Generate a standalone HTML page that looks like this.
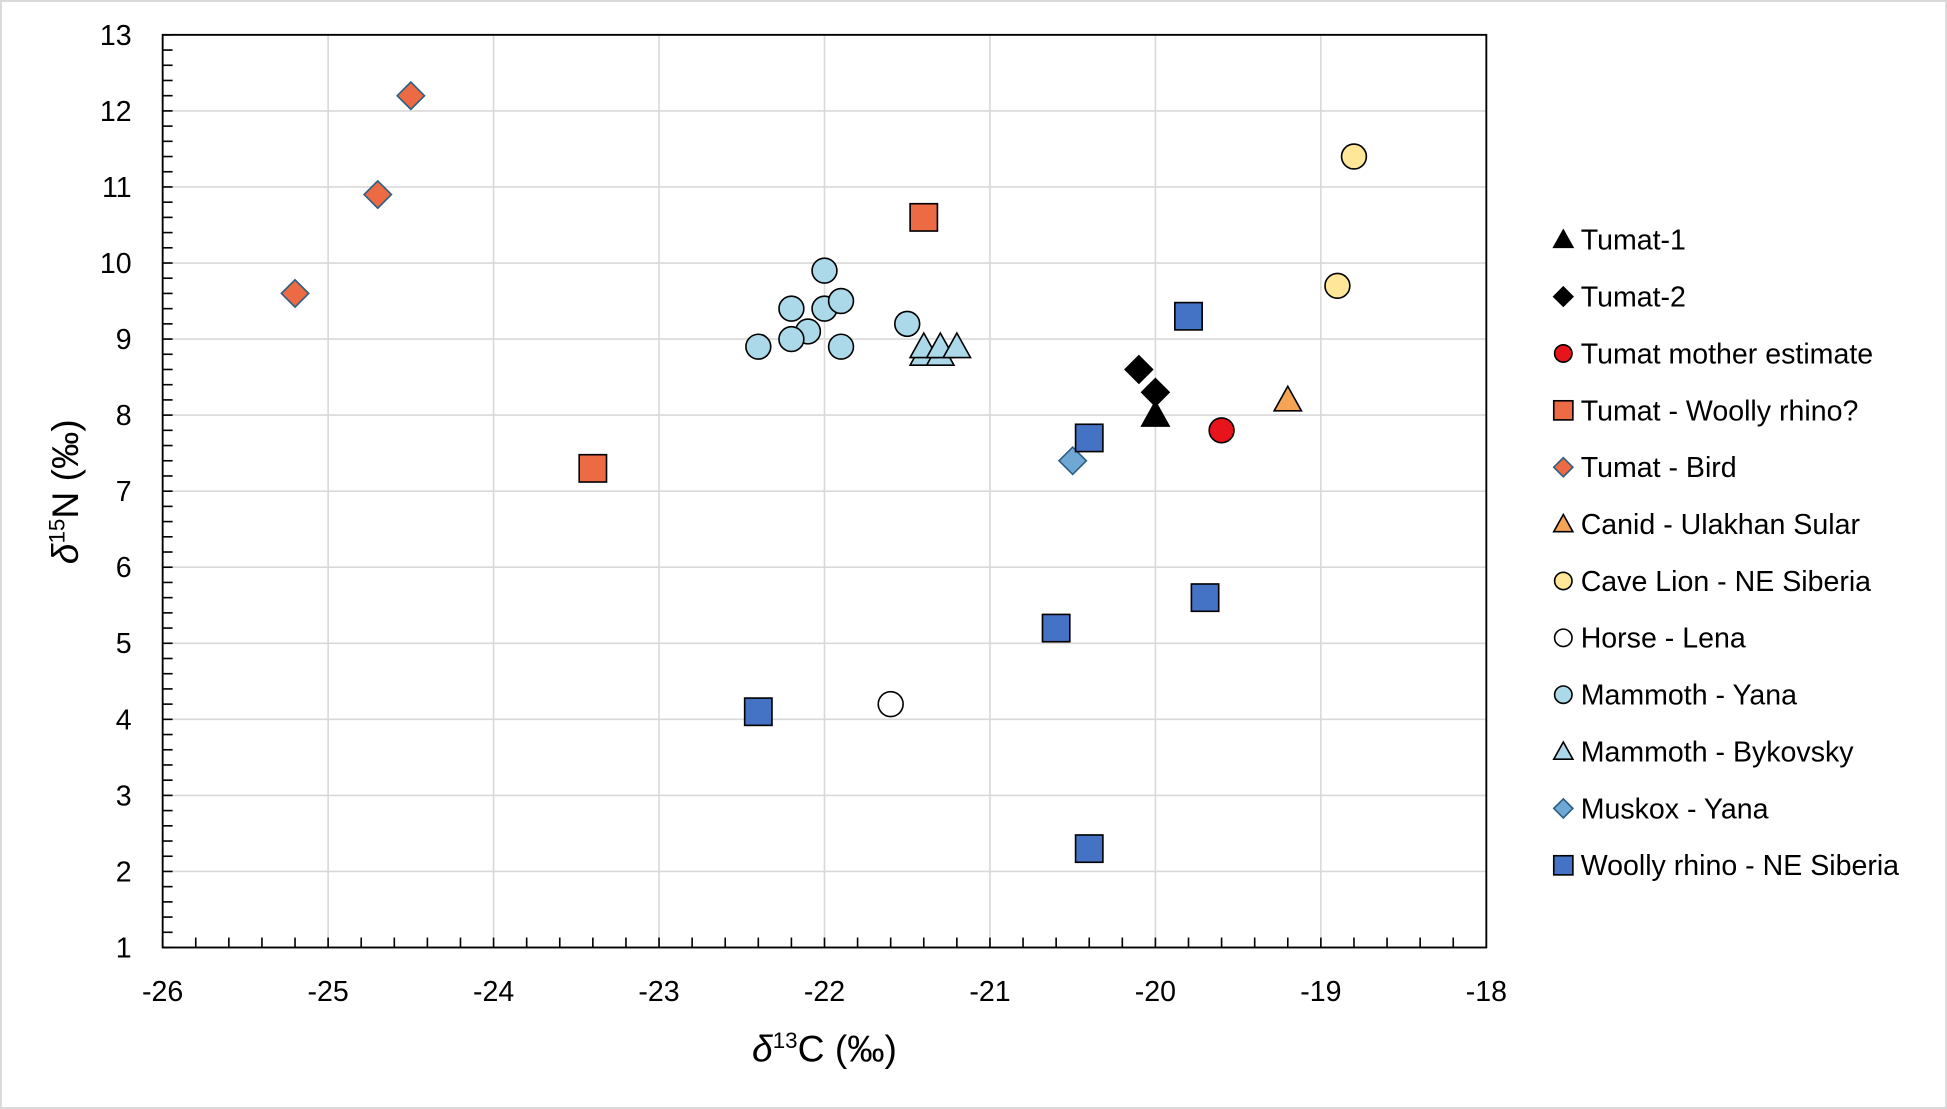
<!DOCTYPE html>
<html><head><meta charset="utf-8"><style>
html,body{margin:0;padding:0;background:#fff;}
svg{display:block;}
text{font-family:"Liberation Sans",sans-serif;fill:#000;}
</style></head><body>
<svg width="1947" height="1109" viewBox="0 0 1568 893" xmlns="http://www.w3.org/2000/svg">
<rect x="0.5" y="0.5" width="1567" height="892" fill="#fff" stroke="#d9d9d9" stroke-width="2"/>
<g id="grid" stroke="#d9d9d9" stroke-width="1.3"></g>
<g id="ticks" stroke="#000" stroke-width="1.3"></g>
<rect x="131" y="28" width="1066" height="735" fill="none" stroke="#000" stroke-width="1.5"/>
<g id="labels" font-size="23"></g>
<g id="pts"></g>
<text x="664" y="855" font-size="30" text-anchor="middle"><tspan font-style="italic">δ</tspan><tspan font-size="18" dy="-11">13</tspan><tspan dy="11">C (‰)</tspan></text>
<text transform="translate(63,396) rotate(-90)" font-size="30" text-anchor="middle"><tspan font-style="italic">δ</tspan><tspan font-size="18" dy="-11">15</tspan><tspan dy="11">N (‰)</tspan></text>
<g id="leg" font-size="23"></g>
</svg>
<script>
const NS="http://www.w3.org/2000/svg";
const X=v=>131+(v+26)*133.25, Y=v=>763-(v-1)*61.25;
function el(p,t,a,txt){const e=document.createElementNS(NS,t);for(const k in a)e.setAttribute(k,a[k]);if(txt!==undefined)e.textContent=txt;document.getElementById(p).appendChild(e);return e;}
for(let i=-25;i<=-18;i++){el('grid','line',{x1:X(i),x2:X(i),y1:28,y2:763});}
for(let j=2;j<=13;j++){el('grid','line',{x1:131,x2:1197,y1:Y(j),y2:Y(j)});}
for(let v=-26;v<=-18.001;v+=0.2){const x=X(v);el('ticks','line',{x1:x,x2:x,y1:763,y2:755});}
for(let v=1;v<=13.001;v+=0.2){const y=Y(v);el('ticks','line',{x1:131,x2:139,y1:y,y2:y});}
for(let i=-26;i<=-18;i++)el('labels','text',{x:X(i),y:806,'text-anchor':'middle'},String(i));
for(let j=1;j<=13;j++)el('labels','text',{x:106,y:Y(j)+8,'text-anchor':'end'},String(j));
function mk(g,type,x,y,fill,stroke,s){
 s=s||1;
 if(type=='c')el(g,'circle',{cx:x,cy:y,r:10*s,fill,stroke,'stroke-width':1.3});
 if(type=='s')el(g,'rect',{x:x-11*s,y:y-11*s,width:22*s,height:22*s,fill,stroke,'stroke-width':1.3});
 if(type=='d'){const r=11*s;el(g,'polygon',{points:`${x},${y-r} ${x+r},${y} ${x},${y+r} ${x-r},${y}`,fill,stroke,'stroke-width':1.3});}
 if(type=='t'){const r=11*s;el(g,'polygon',{points:`${x},${y-r} ${x+r},${y+r*0.8} ${x-r},${y+r*0.8}`,fill,stroke,'stroke-width':1.3});}
}
const S=[
['t','#000','#000',[[-20,8.0]],'Tumat-1'],
['d','#000','#000',[[-20.1,8.6],[-20,8.3]],'Tumat-2'],
['c','#e8141c','#000',[[-19.6,7.8]],'Tumat mother estimate'],
['s','#ec6a44','#000',[[-21.4,10.6],[-23.4,7.3]],'Tumat - Woolly rhino?'],
['d','#ec6a44','#2e5f80',[[-24.5,12.2],[-24.7,10.9],[-25.2,9.6]],'Tumat - Bird'],
['t','#f5a455','#000',[[-19.2,8.2]],'Canid - Ulakhan Sular'],
['c','#ffe699','#000',[[-18.8,11.4],[-18.9,9.7]],'Cave Lion - NE Siberia'],
['c','#fff','#000',[[-21.6,4.2]],'Horse - Lena'],
['c','#acd9ea','#000',[[-22,9.9],[-22.2,9.4],[-22,9.4],[-21.9,9.5],[-22.1,9.1],[-22.2,9.0],[-22.4,8.9],[-21.9,8.9],[-21.5,9.2]],'Mammoth - Yana'],
['t','#acd9ea','#000',[[-21.4,8.8],[-21.3,8.8],[-21.4,8.9],[-21.3,8.9],[-21.2,8.9]],'Mammoth - Bykovsky'],
['d','#6fa8d4','#2e5f80',[[-20.5,7.4]],'Muskox - Yana'],
['s','#4472c4','#000',[[-19.8,9.3],[-20.4,7.7],[-19.7,5.6],[-20.6,5.2],[-22.4,4.1],[-20.4,2.3]],'Woolly rhino - NE Siberia']
];
S.forEach((s,i)=>{
 s[3].forEach(p=>mk('pts',s[0],X(p[0]),Y(p[1]),s[1],s[2]));
 const ly=193+i*45.8;
 mk('leg',s[0],1259,ly,s[1],s[2],0.7);
 el('leg','text',{x:1273,y:ly+8},s[4]);
});
</script>
</body></html>
